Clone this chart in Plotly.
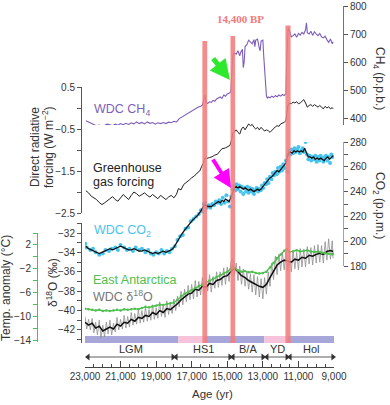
import plotly.graph_objects as go

W, H = 390, 405
def fx(p): return p / W
def fy(p): return 1 - p / H

# ---------------- data ----------------
ch4_age = [22950,22800,22650,22500,22350,22200,22050,21900,21750,21600,21450,21300,21150,21000,20850,20700,20550,20400,20250,20100,
           19950,19800,19650,19500,19350,19200,19050,18900,18750,18600,18450,18300,18150,18000,17850,17700,17550,17400,17250,17100,
           16950,16800,16650,16500,16400,16300,16250,16200,16100,16000,15900,15800,15700,15600,15500,15400,15300,15200,15100,15000,
           14900,14800,14760,14720,14680,14600,14500,14400,14300,14250,14150,14100,14050,14000,13900,13800,13700,13600,13500,13450,
           13400,13300,13200,13150,13100,13000,12950,12900,12850,12800,12750,12700,12600,12500,12400,12300,12200,12100,12000,11900,
           11800,11700,11660,11620,11580,11500,11400,11300,11200,11100,11000,10900,10800,10700,10600,10550,10500,10400,10300,10200,
           10100,10000,9900,9800,9700,9600,9500,9400,9300,9200,9100,9050]
ch4_ppb = [390,385,383,378,372,375,371,374,378,376,372,378,374,380,376,381,377,383,379,386,
           380,384,379,386,381,384,378,383,380,384,380,385,383,388,386,398,404,410,416,422,
           428,432,438,442,446,470,482,455,452,458,456,463,460,468,472,475,470,482,478,486,
           488,494,540,600,625,632,628,640,622,634,645,580,600,655,662,678,670,665,680,655,
           678,682,650,640,675,678,620,560,510,480,470,475,472,478,474,480,476,482,478,484,
           480,488,600,700,722,710,690,694,700,688,702,696,706,700,715,740,705,700,710,695,
           708,700,694,702,690,686,692,680,670,682,665,672]

ghg_age = [22950,22800,22650,22500,22350,22200,22050,21900,21750,21600,21450,21300,21150,21000,20850,20700,20550,20400,20250,20100,
           19950,19800,19650,19500,19350,19200,19050,18900,18750,18600,18450,18300,18150,18000,17850,17750,17600,17450,17300,17150,
           17000,16850,16700,16550,16450,16350,16270,16150,16000,15850,15700,15550,15400,15300,15100,14950,14850,14750,14700,14600,
           14500,14400,14300,14200,14100,14000,13900,13800,13700,13600,13500,13400,13300,13200,13100,13000,12900,12800,12700,12600,
           12500,12400,12300,12200,12100,12000,11900,11800,11700,11650,11600,11500,11400,11300,11200,11100,11000,10900,10800,10700,
           10600,10500,10400,10300,10200,10100,10000,9900,9800,9700,9600,9500,9400,9300,9200,9100,9050]
ghg_forcing = [-1.97,-2.02,-2.10,-2.14,-2.18,-2.25,-2.30,-2.26,-2.22,-2.16,-2.11,-2.18,-2.22,-2.13,-2.06,-2.12,-2.18,-2.08,-2.00,-2.04,
               -2.10,-2.06,-2.02,-2.08,-2.12,-2.06,-2.10,-2.16,-2.08,-2.14,-2.18,-2.12,-2.08,-2.14,-2.05,-1.92,-1.95,-1.82,-1.78,-1.72,
               -1.66,-1.62,-1.55,-1.50,-1.40,-1.32,-1.20,-1.20,-1.18,-1.16,-1.12,-1.10,-1.02,-0.97,-0.95,-0.92,-0.89,-0.75,-0.60,-0.57,
               -0.52,-0.58,-0.62,-0.50,-0.45,-0.52,-0.43,-0.38,-0.42,-0.39,-0.46,-0.50,-0.46,-0.52,-0.46,-0.50,-0.55,-0.52,-0.54,-0.58,
               -0.53,-0.48,-0.45,-0.42,-0.44,-0.38,-0.36,-0.34,-0.30,-0.15,0.05,0.12,0.10,0.14,0.12,0.15,0.10,0.12,0.16,0.20,
               0.12,0.02,0.06,0.08,0.04,0.08,0.05,0.02,0.06,0.02,-0.02,0.04,0.00,0.03,-0.02,0.01,-0.02]

co2_age = [22950,22800,22650,22500,22350,22200,22050,21900,21750,21600,21450,21300,21150,21000,20850,20700,20550,20400,20250,20100,
           19950,19800,19650,19500,19350,19200,19050,18900,18750,18600,18450,18300,18150,18000,17850,17700,17550,17400,17250,17100,
           16950,16800,16650,16500,16400,16300,16200,16100,16000,15900,15800,15700,15600,15500,15400,15300,15200,15100,15000,14900,
           14800,14700,14600,14500,14400,14300,14200,14100,14000,13900,13800,13700,13600,13500,13400,13300,13200,13100,13000,12900,
           12800,12700,12600,12500,12400,12300,12200,12100,12000,11900,11800,11700,11650,11550,11450,11350,11250,11150,11050,10950,
           10850,10750,10650,10550,10450,10350,10250,10150,10050,9950,9850,9750,9650,9550,9450,9350,9250,9150,9050]
co2_ppm = [196,194,193,192,191,190,191,192,193,194,193,194,195,196,195,194,193,193,194,193,
           192,192,193,192,191,190,191,190,191,192,191,192,193,195,199,203,206,209,212,214,
           217,219,221,224,226,229,229,228,228,228,229,230,231,232,231,233,232,234,233,232,
           235,240,243,244,243,244,243,242,243,242,241,242,241,240,241,242,241,242,244,246,
           248,249,251,252,254,255,257,256,258,259,261,263,267,271,272,271,273,272,273,272,
           273,272,275,271,268,268,267,268,266,267,266,267,266,265,267,268,266,268,269]

co2_dot_age = [22980,22900,22700,22550,22400,22200,22000,21850,21650,21500,21300,21150,21000,20800,20650,20500,20300,20150,19950,19800,
               19600,19450,19300,19150,19000,18850,18700,18550,18400,18250,18100,17950,17800,17650,17500,17350,17200,17050,16900,16750,
               16600,16480,16380,16320,16250,16150,16050,15950,15850,15750,15650,15550,15450,15350,15250,15150,15050,14950,14850,14780,
               14700,14620,14550,14480,14400,14320,14250,14180,14100,14030,13950,13880,13800,13720,13650,13580,13500,13420,13350,13270,
               13200,13120,13050,12980,12900,12820,12750,12680,12600,12520,12450,12380,12300,12220,12150,12080,12000,11920,11850,11780,
               11700,11620,11580,11520,11450,11380,11300,11220,11150,11080,11000,10920,10850,10760,10680,10600,10520,10440,10360,10280,
               10200,10120,10050,9980,9900,9820,9750,9680,9600,9520,9450,9380,9300,9220,9150,9080]
co2_dot_ppm = [198,195,193,194,191,189,190,193,192,194,195,193,197,195,193,194,192,195,193,194,
               191,193,190,189,191,190,193,190,192,191,194,196,201,204,205,210,211,216,218,220,
               222,225,224,230,231,227,229,227,230,229,232,231,233,230,235,231,237,232,228,236,
               242,245,241,246,242,245,240,244,238,243,240,244,239,243,240,242,238,241,243,240,
               242,241,245,243,247,246,250,247,252,250,255,253,256,254,259,256,260,257,262,259,
               265,256,270,273,270,274,271,275,272,274,276,271,273,275,272,280,270,266,269,265,
               268,266,269,264,268,265,269,267,264,268,269,265,268,263,270,268]

d18o_age = [23000,22800,22600,22400,22200,22000,21800,21600,21400,21200,21000,20800,20600,20400,20200,20000,19800,19600,19400,19200,
            19000,18800,18600,18400,18200,18000,17800,17600,17400,17200,17000,16800,16600,16400,16200,16000,15800,15600,15400,15200,
            15000,14800,14600,14400,14200,14000,13800,13600,13400,13200,13000,12800,12600,12400,12200,12000,11800,11600,11400,11200,
            11000,10800,10600,10400,10200,10000,9800,9600,9400,9200,9050]
d18o = [-41.2,-41.5,-41.3,-41.8,-41.6,-42.1,-41.9,-41.7,-41.9,-41.4,-41.6,-41.2,-41.3,-40.9,-41.1,-40.7,-40.8,-40.5,-40.6,-40.2,
        -40.4,-40.0,-40.2,-39.8,-39.9,-39.6,-39.3,-38.9,-38.6,-38.3,-38.2,-37.8,-37.9,-37.5,-37.6,-37.2,-37.3,-36.9,-36.8,-36.5,
        -36.4,-36.0,-35.6,-36.0,-36.4,-36.6,-36.9,-37.1,-37.3,-37.5,-37.6,-37.3,-36.6,-35.9,-35.3,-35.0,-34.8,-34.9,-35.0,-34.7,
        -34.8,-34.5,-34.6,-34.3,-34.4,-34.2,-34.1,-34.2,-33.9,-33.8,-33.9]

d18o_raw_age = [23000,22900,22800,22700,22600,22500,22400,22300,22200,22100,22000,21900,21800,21700,21600,21500,21400,21300,21200,21100,
                21000,20900,20800,20700,20600,20500,20400,20300,20200,20100,20000,19900,19800,19700,19600,19500,19400,19300,19200,19100,
                19000,18900,18800,18700,18600,18500,18400,18300,18200,18100,18000,17900,17800,17700,17600,17500,17400,17300,17200,17100,
                17000,16900,16800,16700,16600,16500,16400,16300,16200,16100,16000,15900,15800,15700,15600,15500,15400,15300,15200,15100,
                15000,14900,14800,14700,14600,14500,14400,14300,14200,14100,14000,13900,13800,13700,13600,13500,13400,13300,13200,13100,
                13000,12900,12800,12700,12600,12500,12400,12300,12200,12100,12000,11900,11800,11700,11600,11500,11400,11300,11200,11100,
                11000,10900,10800,10700,10600,10500,10400,10300,10200,10100,10000,9900,9800,9700,9600,9500,9400,9300,9200,9100,9050]
d18o_raw = [-40.6,-41.9,-40.9,-42.0,-40.8,-42.3,-41.2,-42.5,-41.0,-42.8,-41.5,-42.7,-41.2,-42.4,-41.0,-42.5,-41.3,-42.2,-40.7,-42.0,
            -40.9,-41.9,-40.5,-41.8,-40.6,-41.7,-40.2,-41.5,-40.3,-41.4,-39.9,-41.3,-40.0,-41.2,-39.6,-41.1,-39.9,-41.0,-39.4,-40.9,
            -39.7,-40.8,-39.1,-40.6,-39.4,-40.7,-39.0,-40.4,-39.2,-40.3,-38.8,-40.0,-38.5,-39.6,-38.0,-39.4,-37.8,-39.1,-37.4,-38.9,
            -37.3,-38.8,-36.9,-38.6,-37.0,-38.4,-36.6,-38.3,-36.8,-38.0,-36.3,-38.1,-36.5,-37.7,-36.0,-37.6,-36.0,-37.4,-35.6,-37.3,
            -35.5,-37.0,-35.0,-34.6,-36.4,-35.1,-36.9,-35.4,-37.3,-35.7,-37.5,-36.0,-37.8,-36.2,-38.1,-36.3,-38.4,-36.5,-38.6,-36.7,
            -38.8,-36.6,-38.3,-36.0,-37.5,-35.1,-36.8,-34.4,-36.3,-34.2,-35.9,-34.0,-35.8,-33.9,-35.9,-34.1,-36.0,-33.8,-35.7,-34.0,
            -35.8,-33.6,-35.5,-33.7,-35.5,-33.4,-35.2,-33.5,-35.3,-33.3,-35.1,-33.2,-35.0,-33.3,-35.1,-32.9,-34.8,-32.6,-34.7,-32.8,-34.6]

ea_age = [23000,22800,22600,22400,22200,22000,21800,21600,21400,21200,21000,20800,20600,20400,20200,20000,19800,19600,19400,19200,
          19000,18800,18600,18400,18200,18000,17800,17600,17400,17200,17000,16800,16600,16400,16200,16000,15800,15600,15400,15200,
          15000,14800,14700,14600,14400,14200,14000,13800,13600,13400,13200,13000,12800,12600,12400,12200,12000,11800,11650,11500,
          11300,11100,10900,10700,10500,10300,10100,9900,9700,9500,9300,9100,9050]
ea_temp = [-8.7,-8.8,-8.9,-9.0,-8.9,-9.1,-9.0,-9.1,-9.0,-8.9,-9.0,-8.8,-8.9,-8.8,-8.7,-8.8,-8.6,-8.4,-8.5,-8.3,
           -8.2,-8.0,-8.1,-7.9,-7.8,-7.7,-7.2,-6.6,-6.2,-5.9,-5.6,-5.2,-4.9,-4.6,-4.4,-4.0,-3.7,-3.4,-3.1,-2.8,
           -2.5,-2.0,-1.6,-1.9,-2.3,-2.5,-2.4,-2.6,-2.5,-2.7,-2.8,-2.7,-2.5,-1.8,-1.0,-0.2,0.4,1.0,1.3,0.8,
           0.9,1.1,0.9,1.0,1.1,0.9,0.8,0.9,0.7,0.6,0.5,0.4,0.5]

event_bars = [(16400, 16130, 41), (14820, 14560, 36), (11730, 11440, 25.5)]   # age span, top pixel
band_edges = [23000, 17750, 16265, 12920, 11587, 9000]
band_colors = ['#a6a6d8', '#f6c3da', '#a6a6d8', '#f6c3da', '#a6a6d8']
periods = [('LGM', 22830, 18050), ('HS1', 17880, 14850), ('B/A', 14680, 12990), ('YD', 12770, 11640), ('Hol', 11470, 9060)]
x_ticks = [23000, 21000, 19000, 17000, 15000, 13000, 11000, 9000]

forcing_ticks = [0.5, -0.5, -1.5, -2.5]
forcing_minor = [0, -1, -2]
ch4_ticks = [400, 500, 600, 700, 800]
co2_ticks = [180, 200, 220, 240, 260, 280]
co2_minor = [190, 210, 230, 250, 270]
d18o_ticks = [-32, -34, -36, -38, -40, -42]
d18o_minor = [-31, -33, -35, -37, -39, -41, -43]
temp_ticks = [2, -2, -6, -10, -14]
temp_minor = [4, 0, -4, -8, -12]

# ---------------- figure ----------------
PURPLE = '#7d5fbb'
CYAN = '#45c4f0'
GREEN = '#4fbf4f'
TXT = '#333333'
FONT = 'Liberation Sans, Arial, sans-serif'

fig = go.Figure()
fig.add_trace(go.Scatter(x=ch4_age, y=ch4_ppb, mode='lines', line=dict(color=PURPLE, width=1.1), xaxis='x', yaxis='y2'))
fig.add_trace(go.Scatter(x=ghg_age, y=ghg_forcing, mode='lines', line=dict(color='#222222', width=1.0), xaxis='x', yaxis='y'))
fig.add_trace(go.Scatter(x=co2_dot_age, y=co2_dot_ppm, mode='markers', marker=dict(color=CYAN, size=4), xaxis='x', yaxis='y3'))
fig.add_trace(go.Scatter(x=co2_age, y=co2_ppm, mode='lines', line=dict(color='#111111', width=1.3), xaxis='x', yaxis='y3'))
fig.add_trace(go.Scatter(x=d18o_raw_age, y=d18o_raw, mode='lines', line=dict(color='#8f8f8f', width=0.8), xaxis='x', yaxis='y4'))
fig.add_trace(go.Scatter(x=d18o_age, y=d18o, mode='lines', line=dict(color='#111111', width=1.5), xaxis='x', yaxis='y4'))
fig.add_trace(go.Scatter(x=ea_age, y=ea_temp, mode='lines+markers', line=dict(color=GREEN, width=1.4),
                         marker=dict(color=GREEN, size=2.5), xaxis='x', yaxis='y5'))

# period spans: double-headed arrows on a hidden helper axis
for name, a0, a1 in periods:
    fig.add_trace(go.Scatter(x=[a0, a1], y=[0.5, 0.5], mode='lines+markers', xaxis='x', yaxis='y6',
                             line=dict(color='#333', width=0.8),
                             marker=dict(symbol=['triangle-left', 'triangle-right'], size=6, color='#333'),
                             cliponaxis=False))

tickfont = dict(family=FONT, size=10, color=TXT)
common = dict(showgrid=False, zeroline=False, showline=True, linewidth=1, anchor='free', automargin=False,
              autorange=False, ticks='outside', ticklen=4, tickwidth=1, tickfont=tickfont)

def lab(v):
    return ('%g' % v).replace('-', '\u2212')

def minor(vals, color='#555'):
    return dict(tickvals=vals, ticks='outside', ticklen=4, tickwidth=1, tickcolor=color, showgrid=False)

fig.update_layout(
    template='none',
    width=W, height=H, autosize=False, margin=dict(l=0, r=0, t=0, b=0, pad=0, autoexpand=False),
    paper_bgcolor='white', plot_bgcolor='rgba(0,0,0,0)', showlegend=False,
    font=dict(family=FONT, color=TXT),
    xaxis=dict(domain=[fx(85), fx(334)], range=[23000, 9000], autorange=False, anchor='free', position=fy(367),
               automargin=False, showline=True, linecolor='#444', linewidth=1, showgrid=False, zeroline=False,
               ticks='inside', ticklen=6, tickcolor='#444', tickvals=x_ticks,
               ticktext=['{:,}'.format(v) for v in x_ticks], tickfont=tickfont,
               minor=dict(dtick=500, tick0=9000, ticks='inside', ticklen=3, tickcolor='#444', showgrid=False)),
    yaxis=dict(domain=[fy(213), fy(87)], range=[-2.5, 0.5], position=fx(81), side='left',
               linecolor='#555', tickcolor='#555', tickvals=forcing_ticks,
               ticktext=[lab(v) for v in forcing_ticks], minor=minor(forcing_minor), **common),
    yaxis2=dict(domain=[fy(125), fy(6)], range=[375, 800], position=fx(343), side='right',
                linecolor=PURPLE, tickcolor='#555', tickvals=ch4_ticks, **common),
    yaxis3=dict(domain=[fy(266), fy(142)], range=[180, 280], position=fx(343), side='right',
                linecolor=CYAN, tickcolor='#555', tickvals=co2_ticks, minor=minor(co2_minor), **common),
    yaxis4=dict(domain=[fy(342.6), fy(223.3)], range=[-43.3, -31], position=fx(81), side='left',
                linecolor='#555', tickcolor='#555', tickvals=d18o_ticks,
                ticktext=[lab(v) for v in d18o_ticks], minor=minor(d18o_minor), **common),
    yaxis5=dict(domain=[fy(342), fy(233)], range=[-14.3, 4.0], position=fx(37), side='left',
                linecolor=GREEN, tickcolor=GREEN, tickvals=temp_ticks,
                ticktext=[lab(v) for v in temp_ticks], minor=minor(temp_minor, GREEN), **common),
    yaxis6=dict(domain=[fy(362), fy(352)], range=[0, 1], autorange=False, anchor='free', position=0,
                visible=False, automargin=False),
)

shapes = []
for i, col in enumerate(band_colors):
    shapes.append(dict(type='rect', xref='x', yref='paper', x0=band_edges[i], x1=band_edges[i + 1],
                       y0=fy(343), y1=fy(336), fillcolor=col, line=dict(width=0), layer='below'))
for a0, a1, top in event_bars:
    shapes.append(dict(type='rect', xref='x', yref='paper', x0=a0, x1=a1, y0=fy(343), y1=fy(top),
                       fillcolor='#f47c7c', opacity=0.88, line=dict(width=0), layer='above'))
fig.update_layout(shapes=shapes)

ann = []
def text(x, y, t, size=12, color=TXT, angle=0, xanchor='center', family=FONT, **kw):
    ann.append(dict(x=fx(x), y=fy(y), xref='paper', yref='paper', text=t, showarrow=False,
                    font=dict(family=family, size=size, color=color), textangle=angle,
                    xanchor=xanchor, yanchor='middle', **kw))

# axis titles
text(35, 147, 'Direct radiative', 12, angle=-90)
text(48, 147, 'forcing (W m<sup>\u22122</sup>)', 12, angle=-90)
text(52, 283, '\u03b4<sup>18</sup>O (\u2030)', 12, angle=-90)
text(6, 288, 'Temp. anomaly (\u00b0C)', 12, angle=-90)
text(379, 78, 'CH<sub>4</sub> (p.p.b.)', 12, angle=90)
text(379, 205, 'CO<sub>2</sub> (p.p.m.)', 12, angle=90)
text(213, 394, 'Age (yr)', 11.5)

# series labels
text(92, 110, 'WDC CH<sub>4</sub>', 12.5, PURPLE, xanchor='left')
text(91, 168, 'Greenhouse', 12.5, '#222', xanchor='left')
text(91, 182, 'gas forcing', 12.5, '#222', xanchor='left')
text(92, 231, 'WDC CO<sub>2</sub>', 12.5, CYAN, xanchor='left')
text(91, 280, 'East Antarctica', 12.5, GREEN, xanchor='left')
text(91, 296, 'WDC \u03b4<sup>18</sup>O', 12.5, '#777', xanchor='left')
text(240, 19, '<b>14,400 BP</b>', 11, '#f27a7a', family='Liberation Serif, serif')

# period labels
for name, a0, a1 in periods:
    ann.append(dict(x=(a0 + a1) / 2, y=fy(349), xref='x', yref='paper', text=name, showarrow=False,
                    font=dict(family=FONT, size=11, color=TXT), yanchor='middle'))

# highlight arrows
ann.append(dict(x=fx(230), y=fy(80), xref='paper', yref='paper', ax=-18, ay=-23, text='',
                showarrow=True, arrowhead=2, arrowsize=0.8, arrowwidth=5, arrowcolor='#2ee82e', standoff=0))
ann.append(dict(x=fx(231), y=fy(188), xref='paper', yref='paper', ax=-19, ay=-30, text='',
                showarrow=True, arrowhead=2, arrowsize=0.9, arrowwidth=4, arrowcolor='#ff00ff', standoff=0))

fig.update_layout(annotations=ann)
fig.write_html('out.html', config={'displayModeBar': False, 'responsive': False},
               post_script="document.body.style.margin='0';document.body.style.overflow='hidden';")
